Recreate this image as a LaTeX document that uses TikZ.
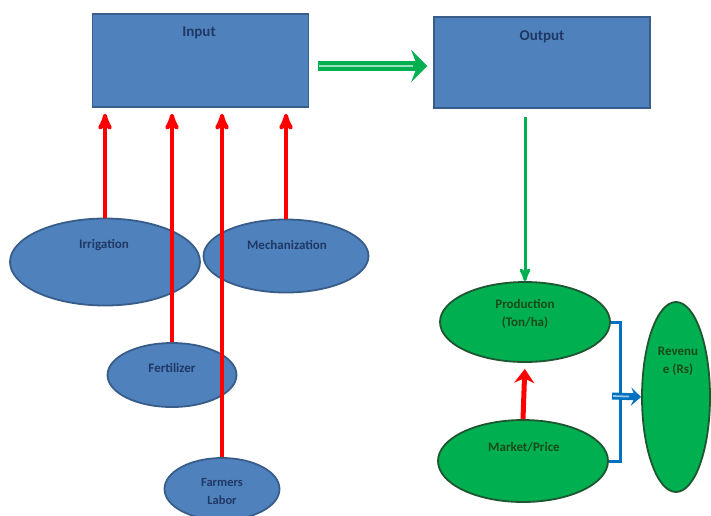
\documentclass[tikz,border=0pt]{standalone}
\usepackage{fontspec}
\setmainfont{Carlito}
\usepackage{xcolor}
\usepackage{tikz}
\usetikzlibrary{arrows}
\usetikzlibrary{arrows.meta}
\usetikzlibrary{shapes.geometric}

\definecolor{boxblue}{HTML}{4F81BD}
\definecolor{lineblue}{HTML}{385D8A}
\definecolor{textblue}{HTML}{1F3864}
\definecolor{ovalgreen}{HTML}{00B050}
\definecolor{linegreen}{HTML}{1E5631}
\definecolor{textgreen}{HTML}{1A4A1A}
\definecolor{arrowred}{HTML}{FF0000}
\definecolor{arrowgreen}{HTML}{00B050}
\definecolor{joinblue}{HTML}{0070C0}

\begin{document}
\begin{tikzpicture}[->,>=stealth',x=1pt,y=-1pt,
    blueoval/.style={ellipse, draw=lineblue, line width=1.8pt, fill=boxblue, inner sep=0pt},
    greenoval/.style={ellipse, draw=linegreen, line width=1.8pt, fill=ovalgreen, inner sep=0pt},
    bluelabel/.style={font=\fontsize{13}{18}\selectfont\bfseries, text=textblue, align=center},
    greenlabel/.style={font=\fontsize{13}{18}\selectfont\bfseries, text=textgreen, align=center},
    redarrow/.style={draw=arrowred, line width=4pt},
    ]

    \useasboundingbox (0,0) rectangle (711,515);

    \node[rectangle,
          draw = lineblue,
          line width = 1.5pt,
          fill = boxblue,
          minimum width = 216pt,
          minimum height = 93pt
          ] (inp) at (200.5,60.5) {};
    \node[bluelabel, font=\fontsize{15}{18}\selectfont\bfseries] (inptxt) at (199,33) {Input};

    \node[rectangle,
          draw = lineblue,
          line width = 1.5pt,
          fill = boxblue,
          minimum width = 216pt,
          minimum height = 91pt
          ] (out) at (542,62.5) {};
    \node[bluelabel, font=\fontsize{15}{18}\selectfont\bfseries] (outtxt) at (542,37) {Output};

    % inputs
    \node[blueoval, minimum width = 190pt, minimum height = 87pt] (irr) at (105,262) {};
    \node[bluelabel] (irrtxt) at (104,245) {Irrigation};

    \node[blueoval, minimum width = 165pt, minimum height = 73pt] (mech) at (286,256) {};
    \node[bluelabel] (mechtxt) at (287,245) {Mechanization};

    \node[blueoval, minimum width = 129pt, minimum height = 64pt] (fert) at (172,375) {};
    \node[bluelabel] (ferttxt) at (172,368) {Fertilizer};

    \node[blueoval, minimum width = 115pt, minimum height = 62pt] (lab) at (222,489) {};
    \node[bluelabel, font=\fontsize{12.5}{18}\selectfont\bfseries] (labtxt) at (222,491) {Farmers\\Labor};

    % outputs
    \node[greenoval, minimum width = 170pt, minimum height = 80pt] (prod) at (525,322) {};
    \node[greenlabel] (prodtxt) at (525,314) {Production\\(Ton/ha)};

    \node[greenoval, minimum width = 170pt, minimum height = 82pt] (mkt) at (523,461) {};
    \node[greenlabel] (mkttxt) at (524,447) {Market/Price};

    \node[greenoval, minimum width = 68pt, minimum height = 190pt] (rev) at (676,397) {};
    \node[greenlabel] (revtxt) at (678,361) {Revenu\\e (Rs)};

    \coordinate (brk) at (620,396);

    %input paths
    \path
    (irr.north) edge [redarrow, shorten >=6pt] (irr.north |- inp.south)
    (fert.north) edge [redarrow, shorten >=6pt] (fert.north |- inp.south)
    (lab.north) edge [redarrow, shorten >=6pt] (lab.north |- inp.south)
    (mech.north) edge [redarrow, shorten >=6pt] (mech.north |- inp.south);

    %output paths
    \draw[draw=arrowgreen, line width=10pt, shorten <=9pt, shorten >=6pt,
          -{Stealth[length=16pt,width=32pt,inset=6pt]}]
    (inp.east |- 0,66) -- (out.west |- 0,66);
    \draw[-, draw=arrowgreen!40!white, line width=2.5pt, shorten <=10pt, shorten >=20pt]
    (inp.east |- 0,66) -- (out.west |- 0,66);
    \draw[draw=arrowgreen, line width=3pt, shorten <=8pt]
    (prod.north |- out.south) -- (prod.north);
    \draw[redarrow, line width=5pt, shorten >=6pt,
          -{Stealth[length=14pt,width=20pt]}] (mkt.north) -- (prod.south);
    \draw[-, draw=joinblue, line width=3pt] (prod.east) -| (brk) |- (mkt.east);
    \draw[draw=joinblue, line width=7pt,
          -{Stealth[length=10pt,width=18pt,inset=4pt]}]
    ([xshift=-8pt]brk) -- (rev.west);
    \draw[-, draw=joinblue!40!white, line width=1.8pt, shorten <=1pt, shorten >=12pt]
    ([xshift=-8pt]brk) -- (rev.west);

\end{tikzpicture}
\end{document}
